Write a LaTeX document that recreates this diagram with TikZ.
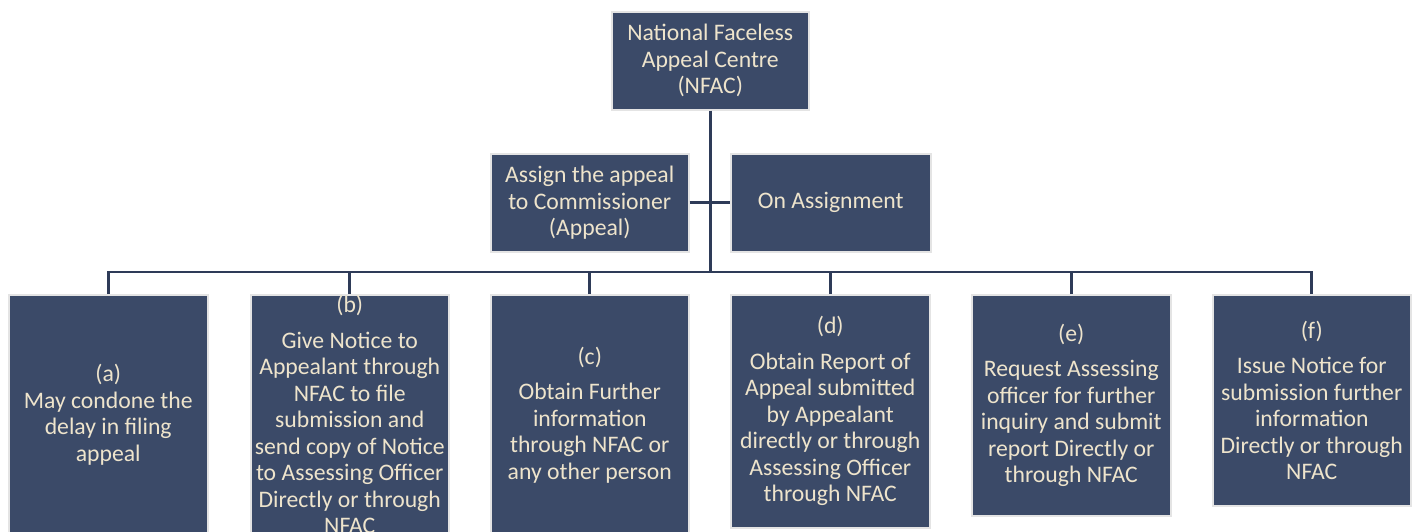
\documentclass[tikz,border=0pt]{standalone}
\usepackage{fontspec}
\setmainfont{Carlito}
\definecolor{boxblue}{HTML}{3B4A68}
\definecolor{boxedge}{HTML}{E4E4E4}
\definecolor{linecol}{HTML}{2E3B58}
\definecolor{cream}{HTML}{EEE4CC}
\begin{document}
\begin{tikzpicture}[x=1pt,y=-1pt,
  box/.style={draw=boxedge,line width=1.5pt,fill=boxblue,anchor=north west,inner sep=0pt},
  txt/.style={text=cream,align=center,inner sep=0pt,font=\fontsize{23.7}{26.5}\selectfont},
  conn/.style={draw=linecol,line width=2.8pt}]
\useasboundingbox (0,0) rectangle (1417,531);
\clip (0,0) rectangle (1417,531);
\fill[white] (0,0) rectangle (1417,531);
% boxes
\node[box,minimum width=197pt,minimum height=98pt] (top) at (611,11) {};
\node[box,minimum width=198pt,minimum height=98pt] (ml) at (490,153) {};
\node[box,minimum width=200pt,minimum height=98pt] (mr) at (730,153) {};
\node[box,minimum width=199pt,minimum height=240pt] (na) at (8,294) {};
\node[box,minimum width=198pt,minimum height=240pt] (nb) at (250,294) {};
\node[box,minimum width=198pt,minimum height=240pt] (nc) at (490,294) {};
\node[box,minimum width=199pt,minimum height=233pt] (nd) at (730,294) {};
\node[box,minimum width=199pt,minimum height=221pt] (ne) at (971,294) {};
\node[box,minimum width=198pt,minimum height=211pt] (nf) at (1212,294) {};
% texts
\node[txt] (ttop) at (top.center) {National Faceless\\Appeal Centre\\(NFAC)};
\node[txt] (tml) at (ml.center) {Assign the appeal\\to Commissioner\\(Appeal)};
\node[txt] (tmr) at (mr.center) {On Assignment};
\node[txt] (ta) at (na.center) {(a)\\May condone the\\delay in filing\\appeal};
\node[txt] (tb) at (nb.center) {(b)\\[9pt]Give Notice to\\Appealant through\\NFAC to file\\submission and\\send copy of Notice\\to Assessing Officer\\Directly or through\\NFAC};
\node[txt] (tc) at (nc.center) {(c)\\[9pt]Obtain Further\\information\\through NFAC or\\any other person};
\node[txt] (td) at (nd.center) {(d)\\[9pt]Obtain Report of\\Appeal submitted\\by Appealant\\directly or through\\Assessing Officer\\through NFAC};
\node[txt] (te) at (ne.center) {(e)\\[9pt]Request Assessing\\officer for further\\inquiry and submit\\report Directly or\\through NFAC};
\node[txt] (tf) at (nf.center) {(f)\\[9pt]Issue Notice for\\submission further\\information\\Directly or through\\NFAC};
% connectors
\coordinate (bus) at (709.5,272);
\draw[conn] (top.south) -- (top.south |- bus);
\draw[conn] (ml.east) -- (mr.west);
\draw[conn] (na.north) |- (bus) -| (nf.north);
\draw[conn] (nb.north) -- (nb.north |- bus);
\draw[conn] (nc.north) -- (nc.north |- bus);
\draw[conn] (nd.north) -- (nd.north |- bus);
\draw[conn] (ne.north) -- (ne.north |- bus);
\end{tikzpicture}
\end{document}
